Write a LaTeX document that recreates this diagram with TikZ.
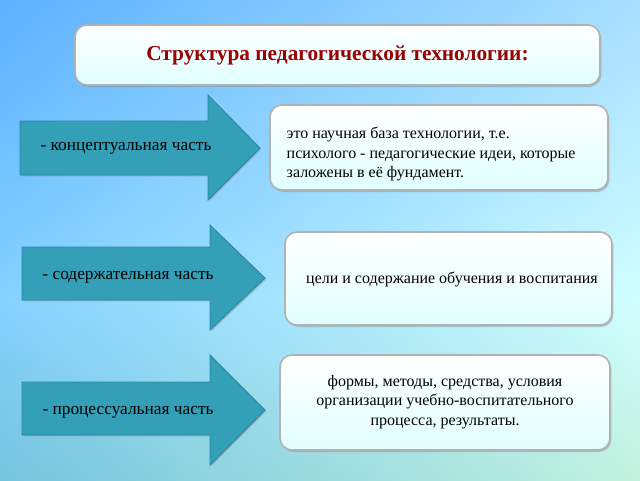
\documentclass[tikz,border=0pt]{standalone}
\usepackage{fontspec}
\setmainfont{Liberation Serif}
\usetikzlibrary{shadows}
\definecolor{arrc}{RGB}{52,160,184}
\definecolor{arrd}{RGB}{40,135,160}
\begin{document}
\begin{tikzpicture}[x=0.75pt,y=-0.75pt,
  arr/.style={fill=arrc, draw=arrd, line width=0.6pt, drop shadow={shadow xshift=1pt,shadow yshift=-1pt,opacity=0.4}},
  box/.style={draw=gray!60, line width=1.2pt, rounded corners=9pt, top color=white, bottom color=cyan!12, drop shadow={shadow xshift=1pt,shadow yshift=-1.5pt,opacity=0.4}},
  lab/.style={font=\fontsize{13pt}{15pt}\selectfont, text=black},
  btxt/.style={font=\fontsize{12pt}{14.5pt}\selectfont, text=black}]
\useasboundingbox (0,0) rectangle (640,480);
\shade[top color=blue!45!cyan!70, bottom color=cyan!30] (0,0) rectangle (640,300);
\shade[top color=cyan!30, bottom color=green!45!teal!45] (0,300) rectangle (640,480);
\shade[left color=blue!50!cyan!60, right color=cyan!10, opacity=0.6] (0,0) rectangle (640,480);
% title
\node[box, minimum width=525*0.75pt, minimum height=60*0.75pt] (t) at (337.5,55) {};
\node[font=\bfseries\fontsize{16pt}{18pt}\selectfont, text=red!60!black] (tt) at (t) {Структура педагогической технологии:};
% arrows
\foreach \n/\yt/\yb/\ht/\hb/\ty/\xl/\xr/\tip in {1/121/175/95/200/148/20/208/260, 2/247/300/225/330/278/22/210/265, 3/382/435/355/465/410/22/210/265}{
  \path[arr] (\xl,\yt) -- (\xr,\yt) -- (\xr,\ht) -- (\tip,\ty) -- (\xr,\hb) -- (\xr,\yb) -- (\xl,\yb) -- cycle;
}
\node[lab] (a1) at (126,148) {- концептуальная часть};
\node[lab] (a2) at (128,277) {- содержательная часть};
\node[lab] (a3) at (128,412) {- процессуальная часть};
% boxes
\node[box, minimum width=338*0.75pt, minimum height=85*0.75pt] (b1) at (439,147.5) {};
\node[btxt, align=left, anchor=west] (b1t) at (282,154) {это научная база технологии, т.е.\\ психолого - педагогические идеи, которые\\ заложены в её фундамент.};
\node[box, minimum width=327*0.75pt, minimum height=93*0.75pt] (b2) at (448.5,278.5) {};
\node[btxt] (b2t) at (452,279) {цели и содержание обучения и воспитания};
\node[box, minimum width=330*0.75pt, minimum height=95*0.75pt] (b3) at (445,402.5) {};
\node[btxt, align=center] (b3t) at (445,402) {формы, методы, средства, условия\\ организации учебно-воспитательного\\ процесса, результаты.};
\end{tikzpicture}
\end{document}
